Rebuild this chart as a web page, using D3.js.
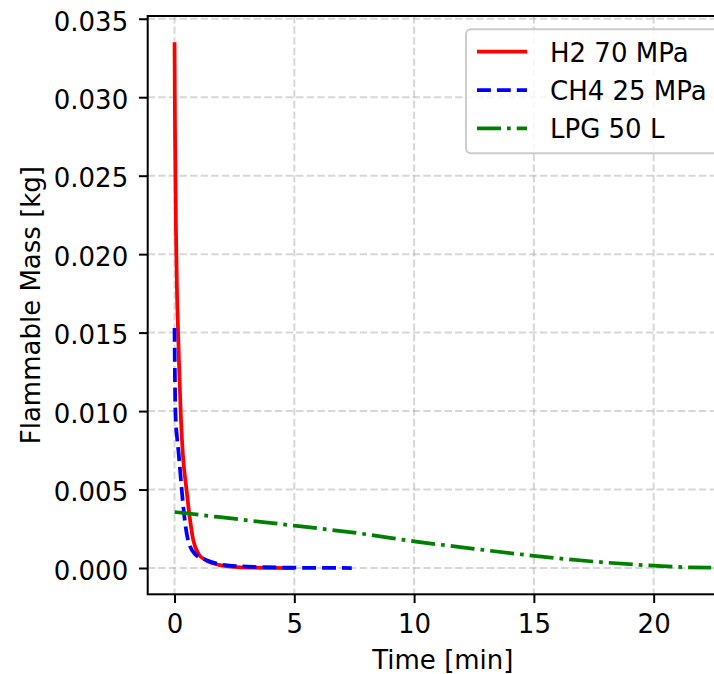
<!DOCTYPE html>
<html>
<head>
<meta charset="utf-8">
<script src="https://cdn.jsdelivr.net/npm/d3@7"></script>
<style>
  body { margin: 0; background: #fff; }
  svg { display: block; font-family: "DejaVu Sans", sans-serif; }
</style>
</head>
<body>
<svg width="714" height="674"></svg>
<script>
// data
var h2Time  = [0, 0.02, 0.06, 0.1, 0.15, 0.2, 0.27, 0.35, 0.5, 0.62, 0.78, 1.0, 1.3, 1.6, 2.0, 2.5, 3.0, 4.0, 5.0];
var h2Mass  = [0.0335, 0.0279, 0.0215, 0.0178, 0.0150, 0.0124, 0.0094, 0.0072, 0.0050, 0.0034, 0.0018, 0.0009, 0.0005, 0.0003, 0.00015, 0.00007, 0.00003, 0.00001, 0.0];
var ch4Time = [0, 0.02, 0.05, 0.1, 0.16, 0.3, 0.4, 0.56, 0.85, 1.34, 2.2, 3.5, 5.0, 7.4];
var ch4Mass = [0.0153, 0.0115, 0.0094, 0.0084, 0.0075, 0.0050, 0.0034, 0.0018, 0.0009, 0.0005, 0.00017, 0.00006, 0.00002, 0.0];
var lpgTime = [0, 2, 5, 8, 10, 12, 15, 18, 20, 21, 22.4];
var lpgMass = [0.00357, 0.00322, 0.0027, 0.00215, 0.0017, 0.00132, 0.00078, 0.00035, 0.00015, 0.00007, 0.00002];
var seriesNames = ["H2 70 MPa", "CH4 25 MPa", "LPG 50 L"];
var seriesColors = ["red", "blue", "green"];
var xTicks = [0, 5, 10, 15, 20];
var yTicks = [0, 0.005, 0.010, 0.015, 0.020, 0.025, 0.030, 0.035];

var series = [
    {name: seriesNames[0], color: seriesColors[0], dash: null, pts: h2Time.map((t,i)=>[t, h2Mass[i]])},
    {name: seriesNames[1], color: seriesColors[1], dash: "13.9,6", pts: ch4Time.map((t,i)=>[t, ch4Mass[i]])},
    {name: seriesNames[2], color: seriesColors[2], dash: "24,6,3.75,6", pts: lpgTime.map((t,i)=>[t, lpgMass[i]])}
];

var svg = d3.select("svg");
var marge = {left:147.7, right:738, top:16, bottom:594.3};//axes box (right edge falls outside the window)
var fs = 26;//font size px
var font = "DejaVu Sans";

// scales with matplotlib style 5% margins
var xMax = d3.max(lpgTime), yMax = d3.max(h2Mass);
var xScale = d3.scaleLinear()
    .domain([-0.05*xMax, xMax*1.05])
    .range([marge.left, marge.right]);
var yScale = d3.scaleLinear()
    .domain([-0.05*yMax, yMax*1.05])
    .range([marge.bottom, marge.top]);

svg.append("defs").append("clipPath").attr("id","clip")
    .append("rect")
    .attr("x",marge.left).attr("y",marge.top)
    .attr("width",marge.right-marge.left).attr("height",marge.bottom-marge.top);

// grid
var grid = svg.append("g").attr("clip-path","url(#clip)");
grid.selectAll(".gx").data(xTicks).enter().append("line")
    .attr("x1",d=>xScale(d)).attr("x2",d=>xScale(d))
    .attr("y1",marge.top).attr("y2",marge.bottom)
    .attr("stroke","#b0b0b0").attr("stroke-opacity",0.5)
    .attr("stroke-width",2).attr("stroke-dasharray","7.4,3.2");
grid.selectAll(".gy").data(yTicks).enter().append("line")
    .attr("x1",marge.left).attr("x2",marge.right)
    .attr("y1",d=>yScale(d)).attr("y2",d=>yScale(d))
    .attr("stroke","#b0b0b0").attr("stroke-opacity",0.5)
    .attr("stroke-width",2).attr("stroke-dasharray","7.4,3.2");

// lines
var line = d3.line().x(d=>xScale(d[0])).y(d=>yScale(d[1])).curve(d3.curveMonotoneX);
svg.append("g").attr("clip-path","url(#clip)")
    .selectAll("path").data(series).enter().append("path")
    .attr("d",d=>line(d.pts))
    .attr("fill","none")
    .attr("stroke",d=>d.color)
    .attr("stroke-width",3.75)
    .attr("stroke-linejoin","round")
    .attr("stroke-dasharray",d=>d.dash);

// axes
var xAxis = d3.axisBottom(xScale).tickValues(xTicks).tickSize(8.75).tickPadding(6).tickFormat(d3.format("d"));
var yAxis = d3.axisLeft(yScale).tickValues(yTicks).tickSize(8.75).tickPadding(6).tickFormat(d3.format(".3f"));
var gx = svg.append("g").attr("transform","translate(0,"+marge.bottom+")").call(xAxis);
var gy = svg.append("g").attr("transform","translate("+marge.left+",0)").call(yAxis);
[gx, gy].forEach(g=>{
    g.attr("font-family",font).attr("font-size",fs);//d3 axis sets sans-serif 10 by default
    g.select(".domain").remove();
    g.selectAll(".tick line").attr("stroke","#000").attr("stroke-width",2);
    g.selectAll("text").attr("fill","#000");
});
gx.selectAll("text").attr("dy",null).attr("y",39);
gy.selectAll("text").attr("dy",null).attr("x",-19.5).attr("y",11.3);

// spines
svg.append("rect")
    .attr("x",marge.left).attr("y",marge.top)
    .attr("width",marge.right-marge.left).attr("height",marge.bottom-marge.top)
    .attr("fill","none").attr("stroke","#000").attr("stroke-width",2);

// axis titles
svg.append("text")
    .attr("x",(marge.left+marge.right)/2).attr("y",668.5)
    .attr("text-anchor","middle").attr("font-family",font).attr("font-size",fs)
    .text("Time [min]");
svg.append("text")
    .attr("transform","translate(40,"+((marge.top+marge.bottom)/2)+") rotate(-90)")
    .attr("text-anchor","middle").attr("font-family",font).attr("font-size",fs)
    .text("Flammable Mass [kg]");

// legend
var lg = svg.append("g");
lg.append("rect")
    .attr("x",466).attr("y",29.3)
    .attr("width",marge.right-12.5-466).attr("height",124)
    .attr("rx",5).attr("ry",5)
    .attr("fill","#fff").attr("fill-opacity",0.8)
    .attr("stroke","#cccccc").attr("stroke-width",2);
var rows = lg.selectAll(".row").data(series).enter().append("g")
    .attr("transform",(d,i)=>"translate(0,"+(51.7+i*38.3)+")");
rows.append("line")
    .attr("x1",477).attr("x2",527).attr("y1",0).attr("y2",0)
    .attr("stroke",d=>d.color).attr("stroke-width",3.75)
    .attr("stroke-dasharray",d=>d.dash);
rows.append("text")
    .attr("x",550).attr("y",10)
    .attr("font-family",font).attr("font-size",fs)
    .text(d=>d.name);
</script>
</body>
</html>
